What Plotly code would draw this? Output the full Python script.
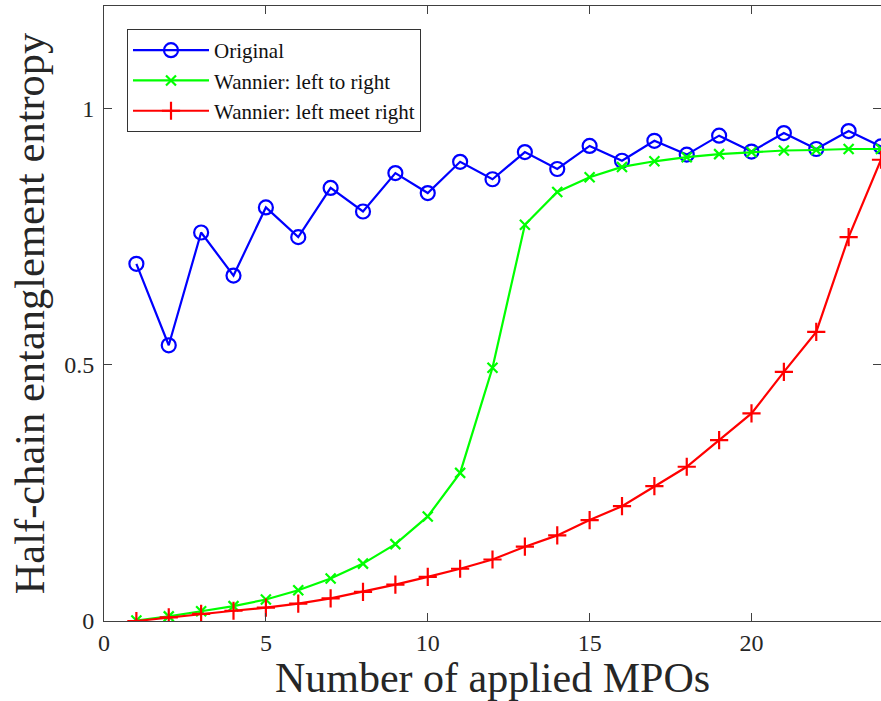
import plotly.graph_objects as go

x_vals = list(range(1, 25))
original = [0.697, 0.538, 0.758, 0.674, 0.807, 0.749, 0.845, 0.799, 0.874, 0.835,
            0.896, 0.862, 0.915, 0.882, 0.927, 0.898, 0.937, 0.910, 0.947, 0.916,
            0.952, 0.921, 0.956, 0.926]
left_to_right = [0.001, 0.009, 0.019, 0.029, 0.042, 0.060, 0.083, 0.112, 0.150, 0.204,
                 0.289, 0.494, 0.773, 0.837, 0.866, 0.886, 0.897, 0.905, 0.911, 0.915,
                 0.918, 0.919, 0.921, 0.921]
left_meet_right = [0.0, 0.007, 0.014, 0.020, 0.026, 0.034, 0.044, 0.057, 0.071, 0.086,
                   0.102, 0.120, 0.145, 0.167, 0.197, 0.224, 0.263, 0.301, 0.353, 0.405,
                   0.486, 0.564, 0.749, 0.900]
names = ["Original", "Wannier: left to right", "Wannier: left meet right"]
x_ticks = [0, 5, 10, 15, 20]
y_ticks = [0, 0.5, 1]
y_tick_text = ["0", "0.5", "1"]

FONT = "Liberation Serif"
AX = "#404040"

fig = go.Figure()
fig.add_trace(go.Scatter(x=x_vals, y=original, name=names[0], mode="lines+markers",
                         line=dict(color="#0000FF", width=2.2),
                         marker=dict(symbol="circle-open", size=14, color="#0000FF",
                                     line=dict(width=2.2, color="#0000FF"))))
fig.add_trace(go.Scatter(x=x_vals, y=left_to_right, name=names[1], mode="lines+markers",
                         line=dict(color="#00FF00", width=2.2),
                         marker=dict(symbol="x-thin-open", size=10, color="#00FF00",
                                     line=dict(width=2.2, color="#00FF00"))))
fig.add_trace(go.Scatter(x=x_vals, y=left_meet_right, name=names[2], mode="lines+markers",
                         line=dict(color="#FF0000", width=2.2),
                         marker=dict(symbol="cross-thin-open", size=13, color="#FF0000",
                                     line=dict(width=2.2, color="#FF0000"))))

axis_common = dict(showline=True, linecolor=AX, linewidth=1, mirror="ticks",
                   ticks="inside", ticklen=8, tickcolor=AX, tickwidth=1,
                   showgrid=False, zeroline=False, automargin=False,
                   tickfont=dict(family=FONT, size=24, color="#262626"))

fig.update_layout(
    width=881, height=701,
    margin=dict(l=104, r=0, t=6, b=80),
    paper_bgcolor="white", plot_bgcolor="white",
    font=dict(family=FONT, color="#262626"),
    xaxis=dict(range=[0, 24], tickvals=x_ticks,
               title=dict(text="Number of applied MPOs", font=dict(family=FONT, size=42, color="#262626"), standoff=4),
               **axis_common),
    yaxis=dict(range=[0, 1.2], tickvals=y_ticks, ticktext=y_tick_text, ticklabelstandoff=4,
               title=dict(text="Half-chain entanglement entropy", font=dict(family=FONT, size=42.5, color="#262626"), standoff=6),
               **axis_common),
    legend=dict(x=0.0296, y=0.9626, xanchor="left", yanchor="top",
                bgcolor="white", bordercolor="#333333", borderwidth=1,
                font=dict(family=FONT, size=21, color="#111111"),
                itemwidth=76, tracegroupgap=0),
    showlegend=True,
)

fig.write_html("out.html",
               config={"displayModeBar": False},
               post_script="document.body.style.margin='0px';document.body.style.overflow='hidden';")
